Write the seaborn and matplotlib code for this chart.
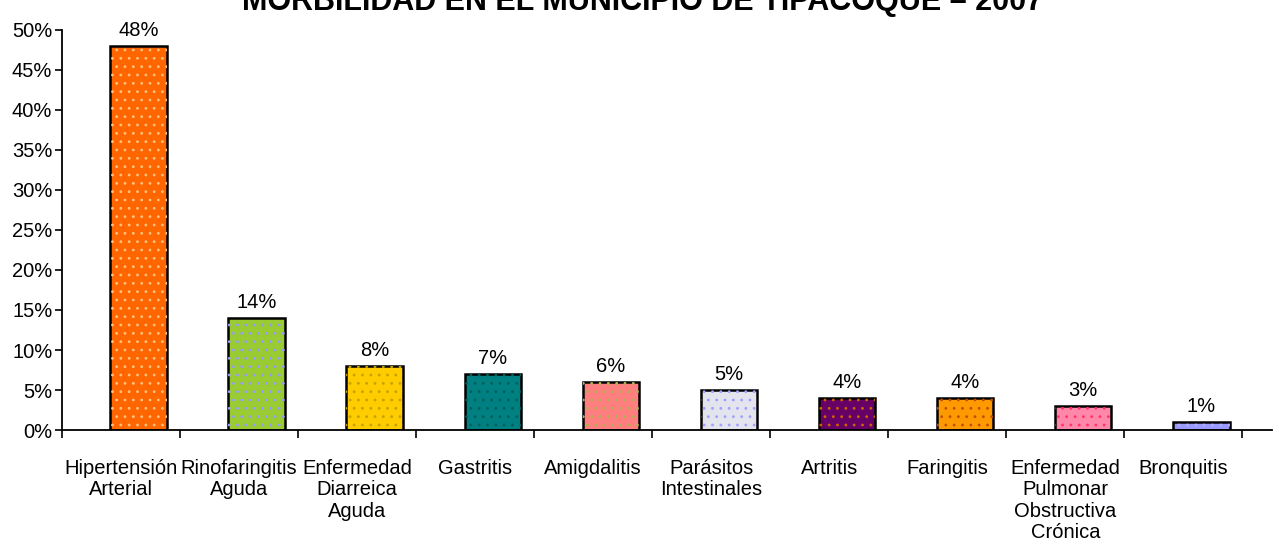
import numpy as np
import pandas as pd
import matplotlib
matplotlib.use("Agg")
import matplotlib.pyplot as plt
import seaborn as sns
from matplotlib.ticker import PercentFormatter, FixedLocator

categorias = [
    "Hipertensión\nArterial",
    "Rinofaringitis\nAguda",
    "Enfermedad\nDiarreica\nAguda",
    "Gastritis",
    "Amigdalitis",
    "Parásitos\nIntestinales",
    "Artritis",
    "Faringitis",
    "Enfermedad\nPulmonar\nObstructiva\nCrónica",
    "Bronquitis",
]
porcentajes = [48, 14, 8, 7, 6, 5, 4, 4, 3, 1]
etiquetas = ["48%", "14%", "8%", "7%", "6%", "5%", "4%", "4%", "3%", "1%"]

colores = ["#FF6600", "#99CC33", "#FFCC00", "#008080", "#FF7F7F",
           "#E4E4EE", "#660066", "#FF9900", "#FF88AA", "#9999FF"]
tramas = ["#FFC080", "#9999FF", "#C8A000", "#006060", "#B0B050",
          "#A0A0FF", "#CC6600", "#C05000", "#FF3366", "#B0B0FF"]

df = pd.DataFrame({"categoria": categorias, "valor": np.array(porcentajes) / 100})

sns.set_theme(style="white")
plt.rcParams["font.family"] = ["Liberation Sans", "DejaVu Sans"]
plt.rcParams["hatch.linewidth"] = 0.8
plt.rcParams["text.color"] = "black"
plt.rcParams["xtick.labelcolor"] = "black"
plt.rcParams["ytick.labelcolor"] = "black"

fig = plt.figure(figsize=(12.85, 5.45), dpi=100)
ax = fig.add_axes([62 / 1285, 115 / 545, 1210 / 1285, 400 / 545])

sns.barplot(data=df, x="categoria", y="valor", hue="categoria", palette=colores,
            legend=False, width=0.48, edgecolor="black", linewidth=1.8,
            saturation=1, ax=ax)
n = len(categorias)
barras = list(ax.patches)[:n]
for p in barras:
    p.set_x(p.get_x() + 0.15)
    p.set_zorder(2)

# textura punteada encima de cada barra
sns.barplot(data=df, x="categoria", y="valor", hue="categoria", palette=tramas,
            legend=False, width=0.48, fill=False, linewidth=0, saturation=1, ax=ax)
for p, c in zip(list(ax.patches)[n:], tramas):
    p.set_x(p.get_x() + 0.15)
    p.set_hatch("..")
    p.set_edgecolor(c)
    p.set_linewidth(0)
    p.set_zorder(3)

for p, txt in zip(barras, etiquetas):
    ax.annotate(txt, (p.get_x() + p.get_width() / 2, p.get_height()),
                xytext=(0, 4), textcoords="offset points",
                ha="center", va="bottom", fontsize=14.5, color="black")

ax.set_ylim(0, 0.5)
ax.set_xlim(-0.5, 9.75)
ax.yaxis.set_major_locator(FixedLocator(np.arange(0, 0.51, 0.05)))
ax.yaxis.set_major_formatter(PercentFormatter(1.0, decimals=0))
ax.set_xticks(range(n))
ax.set_xticklabels(categorias, fontsize=14.5, linespacing=1.15, color="black")
ax.set_xticks(np.arange(-0.5, n, 1.0), minor=True)
ax.tick_params(axis="x", which="major", length=0, pad=21)
ax.tick_params(axis="x", which="minor", length=6, width=1.2, color="black",
               direction="out", bottom=True)
ax.tick_params(axis="y", length=5, width=1.2, color="black", direction="out",
               left=True, labelsize=14.5, pad=2, labelcolor="black")
ax.set_xlabel("")
ax.set_ylabel("")
ax.grid(False)
for s in ["top", "right"]:
    ax.spines[s].set_visible(False)
ax.spines["left"].set_color("black")
ax.spines["bottom"].set_color("black")
ax.spines["left"].set_linewidth(1.3)
ax.spines["bottom"].set_linewidth(1.3)

fig.text(0.5, 1 - 10 / 545, "MORBILIDAD EN EL MUNICIPIO DE TIPACOQUE – 2007",
         ha="center", va="baseline", fontsize=22, fontweight="bold", color="black")

fig.savefig("out.png", dpi=100)
